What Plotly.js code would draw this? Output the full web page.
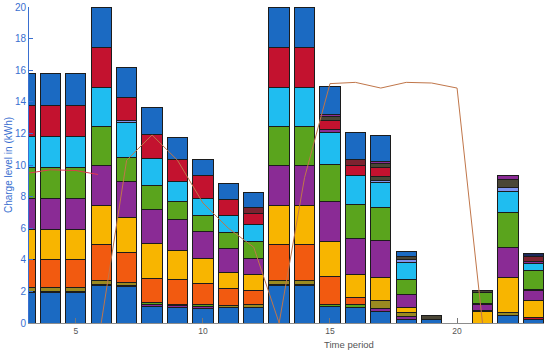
<!DOCTYPE html>
<html><head><meta charset="utf-8">
<script src="https://cdn.plot.ly/plotly-3.0.1.min.js"></script>
<style>html,body{margin:0;padding:0;background:#fff}#chart{width:550px;height:354px}</style>
</head><body><div id="chart"></div>
<script>
// Time periods shown on the x axis
const periods = [3,4,5,6,7,8,9,10,11,12,13,14,15,16,17,18,19,20,21,22,23];

// Charge level per stacked layer (kWh), bottom to top
const layer01 = [1.9,1.9,1.9,2.35,2.32,1.05,0.95,0.89,1.01,1.01,2.35,2.35,1.05,1.0,0.75,0.25,0.2,0,0,0.46,0.2];
const layer02 = [0.12,0.12,0.12,0.1,0.08,0.1,0.15,0.15,0,0,0.1,0.1,0,0,0.15,0.17,0,0,0,0,0];
const layer03 = [0.2,0.2,0.2,0.25,0.17,0,0,0,0.09,0.15,0.25,0.25,0,0,0.53,0.25,0,0,0,0.21,0];
const layer04 = [0,0,0,0,0,0.15,0.1,0.12,0,0,0,0,0.1,0.2,0,0,0,0,0,0,0];
const layer05 = [1.78,1.78,1.78,2.3,1.9,1.5,1.54,1.33,1.11,0.9,2.3,2.3,1.8,0.4,0,0,0,0,0,0,0];
const layer06 = [0,0,0,0,0,0,0,0,0,0,0,0,0,0,0,0,0,0,0,0,0.12];
const layer07 = [1.9,1.9,1.9,2.45,2.21,2.25,1.86,1.62,0.99,1.0,2.45,2.45,2.21,1.48,1.47,0.34,0,0,0.72,2.23,1.11];
const layer08 = [0,0,0,0,0,0,0,0,0,0,0,0,0,0,0,0,0,0,0.08,0,0];
const layer09 = [1.95,1.95,1.95,2.5,2.3,2.15,1.98,1.69,1.52,1.05,2.5,2.5,2.54,2.3,2.3,0.78,0,0,0.36,1.91,0.63];
const layer10 = [0,0,0,0,0,0,0,0,0,0,0,0,0,0,0,0,0,0,0.08,0,0.08];
const layer11 = [2.02,2.02,2.02,2.5,1.52,1.5,1.12,0.99,1.01,1.05,2.5,2.5,2.32,2.12,2.08,0.95,0,0,0.72,2.17,1.19];
const layer12 = [1.94,1.94,1.94,2.45,2.2,1.7,1.26,1.06,1.06,1.06,2.45,2.45,2.05,1.82,1.62,1.11,0,0,0,1.35,0.42];
const layer13 = [0,0,0,0,0.14,0,0,0,0,0,0,0,0,0,0.15,0.15,0,0,0,0.22,0];
const layer14 = [0,0,0,0,0,0,0,0,0,0,0,0,0,0,0.25,0.2,0.26,0,0.1,0.52,0];
const layer15 = [0,0,0,0,0,0,0,0,0,0,0,0,0.15,0,0,0,0,0,0,0.25,0.15];
const layer16 = [1.94,1.94,1.94,2.55,1.44,1.5,1.42,1.47,1.05,0.74,2.55,2.55,0.6,0.64,0.57,0,0,0,0,0,0];
const layer17 = [0,0,0,0,0,0,0,0,0,0.32,0,0,0,0.38,0,0,0,0,0,0,0.32];
const layer18 = [0,0,0,0,0,0,0,0,0,0,0,0,0.22,0,0.23,0,0,0,0,0,0];
const layer19 = [0,0,0,0,0,0,0,0,0,0,0,0,0.17,0,0.15,0,0,0,0,0,0];
const layer20 = [0,0,0,0,0,0,0,0,0,0,0,0,0,0,0,0,0,0,0,0,0.17];
const layer21 = [2.03,2.03,2.03,2.55,1.92,1.72,1.33,1.02,0.98,0.95,2.55,2.55,1.73,1.73,1.61,0.33,0,0,0,0,0];

// Line series (right-hand quantity, drawn in left-axis units)
const lineValues = [null,null,null,0,10.3,11.9,10.3,7.6,6.0,4.8,0,9.2,15.15,15.23,14.87,15.23,15.19,14.87,0,null,null];
// Short red line at the left
const redPeriods = [2.5,3.2,4,5,5.87];
const redValues = [9.45,9.5,9.7,9.65,9.4];

const tickValsX = [5,10,15,20];
const tickTextX = ['5','10','15','20'];

// ---- styles ----
const C = {B:'#1b6ac2',P:'#8a2b95',V:'#9a8a20',G:'#5aa41d',O:'#f25a10',R:'#c3122f',
           Y:'#f8b500',M:'#7c2330',Cy:'#1fbdf0',L:'#7f93ee',D:'#4a4636',N:'#1c2a5c'};
const layers = [layer01,layer02,layer03,layer04,layer05,layer06,layer07,layer08,layer09,layer10,
                layer11,layer12,layer13,layer14,layer15,layer16,layer17,layer18,layer19,layer20,layer21];
const layerColors = [C.B,C.P,C.V,C.G,C.O,C.R,C.Y,C.M,C.P,C.M,C.G,C.Cy,C.L,C.D,C.P,C.R,C.M,C.D,C.P,C.N,C.B];

const traces = layers.map((vals,i)=>({
  type:'bar', x:periods, y:vals.map(v=> v>0 ? v : null), width:0.8,
  marker:{color:layerColors[i], line:{color:'#1c1c1c', width:1}},
  hoverinfo:'skip', showlegend:false
}));
traces.push({type:'scatter', mode:'lines', x:periods, y:lineValues, connectgaps:false,
  line:{color:'#c0764a', width:1}, hoverinfo:'skip', showlegend:false});
traces.push({type:'scatter', mode:'lines', x:redPeriods, y:redValues,
  line:{color:'#e2394e', width:1}, hoverinfo:'skip', showlegend:false});

const font = 'Liberation Sans, Arial, Helvetica, sans-serif';
const blue = '#3a6fd0';
const layout = {
  width:550, height:354, barmode:'stack', bargap:0,
  margin:{l:29, r:6, t:7, b:31, pad:0},
  paper_bgcolor:'#fff', plot_bgcolor:'#fff',
  font:{family:font},
  xaxis:{range:[3.159,23.42], tickvals:tickValsX, ticktext:tickTextX, ticks:'inside', ticklen:5,
    tickcolor:'#777', tickwidth:1, showline:true, linecolor:'#8c8c8c', linewidth:1,
    showgrid:false, zeroline:false, tickfont:{size:8.5, color:'#555', family:font}},
  yaxis:{range:[0,20], dtick:2, tick0:0, ticks:'inside', ticklen:4, tickcolor:blue, showline:true,
    linecolor:blue, linewidth:1, showgrid:false, zeroline:false,
    tickfont:{size:10, color:blue, family:font},
    title:{text:'Charge level in (kWh)', font:{size:10, color:blue, family:font}, standoff:0}},
  annotations:[{text:'Time period', xref:'x', yref:'paper', x:15.74, y:0, yanchor:'middle',
    yshift:-21.5, showarrow:false, font:{size:9.5, color:'#555', family:font}}]
};
Plotly.newPlot('chart', traces, layout, {staticPlot:true, displayModeBar:false});
</script></body></html>
